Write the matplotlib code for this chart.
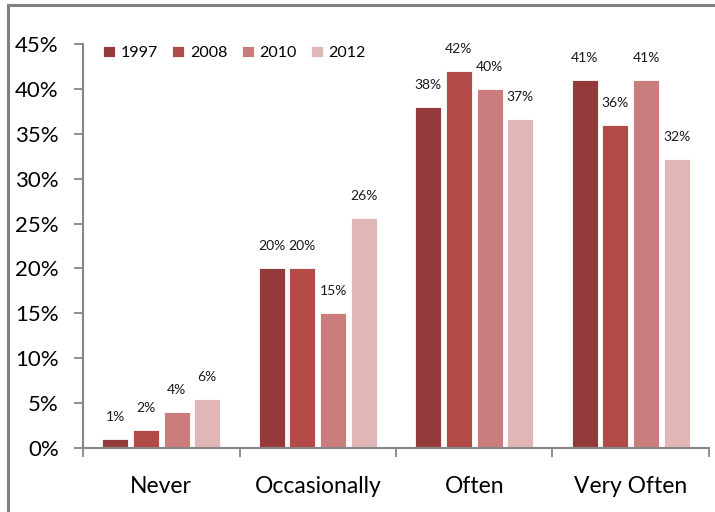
import matplotlib
matplotlib.use("Agg")
import matplotlib.pyplot as plt
from matplotlib.lines import Line2D
import numpy as np

categories = ["Never", "Occasionally", "Often", "Very Often"]
years = ["1997", "2008", "2010", "2012"]
values = {
    "1997": [1.0, 20.0, 38.0, 41.0],
    "2008": [2.0, 20.0, 42.0, 36.0],
    "2010": [4.0, 15.0, 40.0, 41.0],
    "2012": [5.5, 25.6, 36.7, 32.2],
}
colors = ["#953A3A", "#B24A47", "#CB7C7C", "#E0B6B6"]
yticks = [0, 5, 10, 15, 20, 25, 30, 35, 40, 45]

plt.rcParams["font.family"] = ["Lato", "DejaVu Sans"]

fig = plt.figure(figsize=(7.15, 5.12), dpi=100)
ax = fig.add_axes([0.1161, 0.125, 0.8755, 0.789])

x = np.arange(len(categories))
step = 0.196
width = 0.166
for i, (yr, col) in enumerate(zip(years, colors)):
    pos = x + (i - 1.5) * step
    bars = ax.bar(pos, values[yr], width=width, color=col,
                  edgecolor="white", linewidth=0.6, label=yr, zorder=2)
    for b, v in zip(bars, values[yr]):
        ax.annotate(f"{v:.0f}%", (b.get_x() + b.get_width() / 2, v),
                    xytext=(0, 11.5), textcoords="offset points",
                    ha="center", va="bottom", fontsize=10, color="#1a1a1a")

ax.set_xlim(-0.5, 3.5)
ax.set_ylim(0, 45)
ax.set_yticks(yticks)
ax.set_yticklabels([f"{t}%" for t in yticks], fontsize=16)
ax.set_xticks(x)
ax.set_xticklabels(categories, fontsize=16.5)
ax.tick_params(axis="x", length=0, pad=20)
ax.tick_params(axis="y", length=6.5, width=1.3, color="#868686", pad=11)

# category separator ticks below the x axis
ax.set_xticks(np.arange(-0.5, 4.0, 1.0), minor=True)
ax.tick_params(axis="x", which="minor", length=6.5, width=1.3, color="#868686")

for s in ["top", "right"]:
    ax.spines[s].set_visible(False)
for s in ["left", "bottom"]:
    ax.spines[s].set_color("#868686")
    ax.spines[s].set_linewidth(1.5)

leg = ax.legend(loc="upper left", bbox_to_anchor=(0.022, 1.012), ncol=4,
                frameon=False, fontsize=11.5, handlelength=0.75,
                handleheight=0.75, handletextpad=0.35, columnspacing=0.9,
                borderaxespad=0.0)

# outer frame on left and top
fig.add_artist(Line2D([0.0105, 0.0105], [0.0, 0.99], color="#808080",
                      linewidth=2.2, transform=fig.transFigure))
fig.add_artist(Line2D([0.0105, 0.997], [0.99, 0.99], color="#808080",
                      linewidth=2.2, transform=fig.transFigure))

fig.savefig("out.png", dpi=100)
